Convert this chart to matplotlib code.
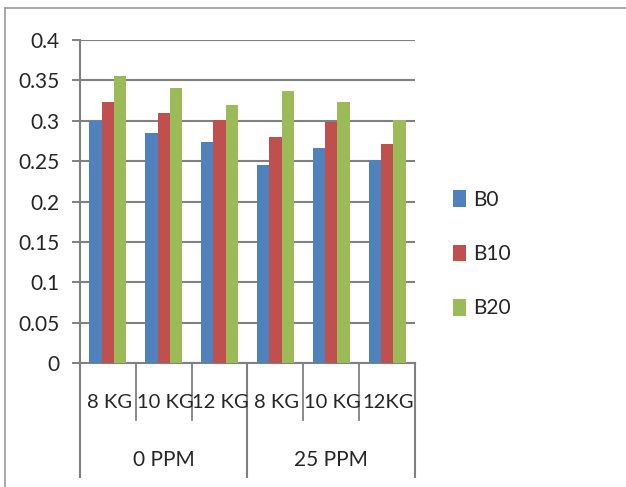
import matplotlib
matplotlib.use("Agg")
import matplotlib.pyplot as plt
from matplotlib.lines import Line2D
import numpy as np

# data
doses = ["8 KG", "10 KG", "12 KG", "8 KG", "10 KG", "12KG"]
ppm_groups = ["0 PPM", "25 PPM"]
series = ["B0", "B10", "B20"]
b0 = [0.300, 0.285, 0.274, 0.245, 0.266, 0.252]
b10 = [0.323, 0.309, 0.301, 0.280, 0.299, 0.271]
b20 = [0.355, 0.341, 0.320, 0.337, 0.323, 0.301]
colors = ["#4F81BD", "#C0504D", "#9BBB59"]

plt.rcParams["font.family"] = ["Lato", "DejaVu Sans"]
TXT = "#262626"
GRID = "#808080"
FS = 15

W, H = 626, 487
fig = plt.figure(figsize=(W / 100, H / 100), dpi=100)
ax = fig.add_axes([80 / W, 1 - 363 / H, 335 / W, 323 / H])

x = np.arange(len(doses))
bw = 0.22
handles = []
for k, (vals, c) in enumerate(zip([b0, b10, b20], colors)):
    h = ax.bar(x + (k - 1) * bw, vals, width=bw, color=c, zorder=3, label=series[k])
    handles.append(h)

ax.set_xlim(-0.5, len(doses) - 0.5)
ax.set_ylim(0, 0.4)
ax.set_yticks(np.arange(0, 0.401, 0.05))
ax.set_yticklabels(["0", "0.05", "0.1", "0.15", "0.2", "0.25", "0.3", "0.35", "0.4"])
ax.yaxis.grid(True, color=GRID, linewidth=1.5, zorder=0)
ax.tick_params(axis="y", length=6, width=1.4, color=GRID, pad=9, labelsize=FS, labelcolor=TXT)
ax.set_xticks([])
for s in ["top", "right"]:
    ax.spines[s].set_visible(False)
for s in ["left", "bottom"]:
    ax.spines[s].set_color(GRID)
    ax.spines[s].set_linewidth(1.5)

# category axis dividers and labels
tr = ax.get_xaxis_transform()
inner_y = -(420 - 363) / 323
outer_y = -(477 - 363) / 323
for xd in [0.5, 1.5, 3.5, 4.5]:
    ax.plot([xd, xd], [0, inner_y], transform=tr, color=GRID, lw=1.3, clip_on=False)
for xd in [-0.5, 2.5, 5.5]:
    ax.plot([xd, xd], [0, outer_y], transform=tr, color=GRID, lw=1.5, clip_on=False)
for i, lab in enumerate(doses):
    ax.text(i + 0.02, -(403 - 363) / 323, lab, transform=tr, ha="center", va="center",
            fontsize=FS - 0.5, color=TXT)
for g, lab in enumerate(ppm_groups):
    ax.text(1 + 3 * g, -(460 - 363) / 323, lab, transform=tr, ha="center", va="center",
            fontsize=FS, color=TXT)

leg = fig.legend(handles=handles, labels=series, loc="upper left",
                 bbox_to_anchor=(434 / W, 1 - 171 / H), frameon=False,
                 fontsize=FS, handlelength=0.62, handleheight=0.85,
                 handletextpad=0.35, labelspacing=1.65, labelcolor=TXT)

# chart area border (top and left visible in the reference)
fig.add_artist(Line2D([5 / W, 1], [1 - 8 / H, 1 - 8 / H], color="#9a9a9a", lw=1.2))
fig.add_artist(Line2D([5 / W, 5 / W], [0, 1 - 8 / H], color="#9a9a9a", lw=1.2))

fig.savefig("out.png", dpi=100)
